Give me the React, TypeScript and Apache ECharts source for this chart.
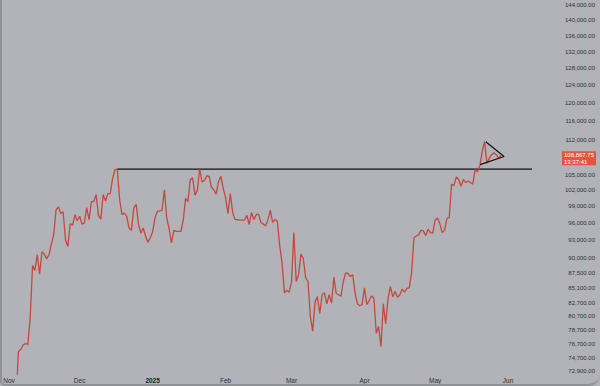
import React, { useEffect, useRef } from "react";
import * as echarts from "echarts";

// ---- Data (daily closes, BTC/USD) ----
const FIRST_DAY = Date.UTC(2024, 10, 4); // 4 Nov 2024
const NOV_CLOSES = [68800, 75600, 75900, 76500, 76700, 76600, 80400, 88700, 87900, 90500, 87300, 91000, 90600, 89800, 90500, 92300, 94000, 98400, 98900, 97700, 98000, 93000, 91900, 95900, 95600, 97500, 96400];
const DEC_CLOSES = [97200, 95800, 96000, 98800, 96600, 99900, 99900, 101200, 97400, 96700, 101200, 100000, 101400, 101400, 104300, 106000, 106100, 100200, 97500, 97800, 97200, 95100, 94700, 98700, 99400, 95800, 94200, 95100, 93700, 92600, 93400];
const JAN_CLOSES = [94400, 96900, 98100, 98200, 98300, 102100, 96900, 95000, 92500, 94700, 94500, 94500, 94500, 96500, 100500, 99900, 104100, 104400, 101100, 102000, 106100, 103600, 103900, 104800, 104700, 102600, 102100, 101300, 103700, 104700, 102400];
const FEB_CLOSES = [100600, 97700, 101400, 97900, 96600, 96600, 96500, 96500, 96500, 97400, 95700, 97900, 96600, 97500, 97600, 96100, 95800, 95500, 96600, 98300, 96100, 96600, 96300, 92000, 89000, 84300, 84700, 84400];
const MAR_CLOSES = [86000, 94300, 86100, 87200, 90600, 89900, 86700, 86100, 80700, 78500, 82900, 83700, 81100, 84000, 84300, 82600, 84000, 82700, 86800, 84200, 84000, 83800, 86100, 87500, 87400, 86900, 87200, 84300, 82600, 82300, 82500];
const APR_CLOSES = [85100, 82500, 83100, 83800, 83500, 78200, 79200, 76300, 82600, 79600, 83400, 85300, 83700, 84500, 83600, 84000, 84900, 84400, 85000, 85100, 87500, 93400, 93700, 93900, 94700, 94600, 93800, 94900, 94300, 94200];
const MAY_CLOSES = [96500, 96900, 95900, 94300, 94700, 96800, 97000, 103200, 102900, 104600, 104100, 102800, 104100, 103500, 103800, 103500, 103200, 106000, 105600, 106800, 109700, 111700, 107300, 108300, 109000, 109400, 109000, 108300, 108867.75];

const LAST_PRICE = 108867.75;
const COUNTDOWN = "13:37:41";

// Drawn resistance line (from the December high to the right edge)
const RESISTANCE_START = Date.UTC(2024, 11, 17);
const RESISTANCE_VALUE = 106100;

// Drawn triangle (pennant) vertices
const TRIANGLE_DATES = [Date.UTC(2025, 4, 22, 12), Date.UTC(2025, 4, 30, 7), Date.UTC(2025, 4, 20, 2)];
const TRIANGLE_VALUES = [111650, 108650, 107000];

// Axis ticks
const MONTH_TICKS = [Date.UTC(2024, 10, 1), Date.UTC(2024, 11, 1), Date.UTC(2025, 0, 1), Date.UTC(2025, 1, 1), Date.UTC(2025, 2, 1), Date.UTC(2025, 3, 1), Date.UTC(2025, 4, 1), Date.UTC(2025, 5, 1)];
const MONTH_LABELS = ["Nov", "Dec", "2025", "Feb", "Mar", "Apr", "May", "Jun"];
const PRICE_TICKS = [144000, 140000, 136000, 132000, 128000, 124000, 120000, 116000, 112000, 105000, 102000, 99000, 96000, 93000, 90000, 87500, 85100, 82700, 80700, 78700, 76700, 74700, 72900];

const DAY = 86400000;
const X_MIN = Date.UTC(2024, 10, 1) - 2.55 * DAY;
const X_MAX = X_MIN + 224.7 * DAY;
const Y_MIN = 72490;
const Y_MAX = 145350;

const BG = "#b1b3b8";
const TEXT = "#2f3136";
const RED = "#c8473c";
const FONT = "'Liberation Sans', Arial, sans-serif";

const fmtPrice = (v: number) =>
  Number(v).toLocaleString("en-US", { minimumFractionDigits: 2, maximumFractionDigits: 2 });

export default function App() {
  const ref = useRef<HTMLDivElement>(null);

  useEffect(() => {
    if (!ref.current) return;
    const chart = echarts.init(ref.current, null, { renderer: "svg" });

    const closes = [...NOV_CLOSES, ...DEC_CLOSES, ...JAN_CLOSES, ...FEB_CLOSES, ...MAR_CLOSES, ...APR_CLOSES, ...MAY_CLOSES];
    const priceData = closes.map((c, i) => [FIRST_DAY + i * DAY, c]);
    const monthLabel = new Map<number, string>();
    MONTH_TICKS.forEach((t, i) => monthLabel.set(t, MONTH_LABELS[i]));

    chart.setOption({
      animation: false,
      backgroundColor: BG,
      textStyle: { fontFamily: FONT },
      grid: { left: 3, right: 68, top: 0, bottom: 12, outerBoundsMode: "none", containLabel: false },
      xAxis: {
        type: "value",
        min: X_MIN,
        max: X_MAX,
        axisLine: { show: false },
        axisTick: { show: false },
        splitLine: { show: false },
        axisLabel: {
          customValues: MONTH_TICKS,
          margin: 3,
          fontSize: 6.5,
          color: TEXT,
          fontFamily: FONT,
          formatter: (v: number) => {
            const s = monthLabel.get(Number(v)) ?? "";
            return s === "2025" ? "{b|" + s + "}" : s;
          },
          rich: { b: { fontWeight: "bold", fontSize: 6.5, color: "#1e2024", fontFamily: FONT } },
        },
      },
      yAxis: {
        type: "log",
        position: "right",
        min: Y_MIN,
        max: Y_MAX,
        axisLine: { show: false },
        axisTick: { show: false },
        splitLine: { show: false },
        axisLabel: {
          customValues: PRICE_TICKS,
          align: "right",
          margin: 63,
          fontSize: 6,
          color: TEXT,
          fontFamily: FONT,
          formatter: (v: number) => fmtPrice(v),
        },
      },
      series: [
        {
          name: "BTCUSD",
          type: "line",
          data: priceData,
          showSymbol: false,
          symbol: "none",
          lineStyle: { color: RED, width: 1.3 },
          clip: true,
          z: 3,
        },
        {
          name: "Resistance",
          type: "line",
          data: [[RESISTANCE_START, RESISTANCE_VALUE], [X_MAX, RESISTANCE_VALUE]],
          symbol: "none",
          lineStyle: { color: "#111111", width: 1.2 },
          clip: false,
          z: 2,
          markPoint: {
            symbol: "rect",
            symbolSize: 0,
            data: [{ coord: [X_MAX, LAST_PRICE], value: LAST_PRICE }],
            label: {
              show: true,
              position: "right",
              distance: 5,
              offset: [25, 3],
              backgroundColor: "#e5543f",
              color: "#ffffff",
              fontSize: 6,
              lineHeight: 7,
              fontFamily: FONT,
              padding: [0, 2, 0, 2],
              formatter: () => fmtPrice(LAST_PRICE) + "\n" + COUNTDOWN,
            },
          },
        },
        {
          name: "Pennant",
          type: "line",
          data: TRIANGLE_DATES.map((d, i) => [d, TRIANGLE_VALUES[i]]),
          symbol: "none",
          lineStyle: { color: "#111111", width: 1.2 },
          clip: false,
          z: 4,
        },
      ],
    });

    return () => chart.dispose();
  }, []);

  return (
    <div style={{ position: "fixed", left: 0, top: 0, width: 600, height: 386, background: BG }}>
      <div ref={ref} style={{ position: "absolute", left: 0, top: 0, width: 600, height: 386 }} />
      <div
        style={{
          position: "absolute",
          left: 0,
          top: 0,
          width: 600,
          height: 386,
          boxSizing: "border-box",
          borderLeft: "2px solid #8f9196",
          borderBottom: "2px solid #8f9196",
          borderBottomRightRadius: 12,
          borderBottomLeftRadius: 5,
          pointerEvents: "none",
        }}
      />
    </div>
  );
}
